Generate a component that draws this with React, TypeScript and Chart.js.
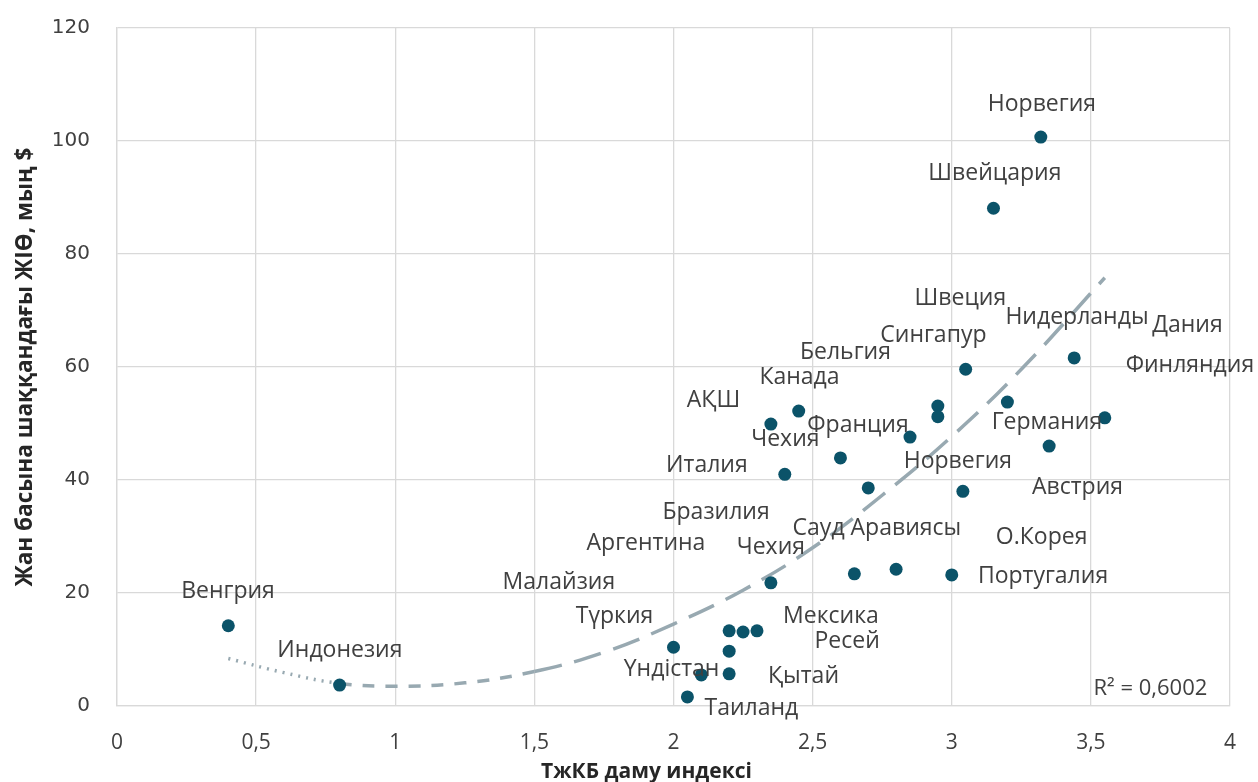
import React, { useEffect, useRef } from "react";
import { Chart, registerables } from "chart.js";

Chart.register(...registerables);

// Country points: development index (x) vs GDP per capita, thousand $ (y)
const countryX = [0.40, 0.80, 2.00, 2.05, 2.10, 2.20, 2.25, 2.30, 2.20, 2.20, 2.35, 2.40, 2.35, 2.45, 2.60, 2.70, 2.85, 2.95, 2.95, 3.05, 3.20, 3.04, 3.35, 3.55, 3.44, 3.32, 3.15, 2.65, 2.80, 3.00];
const countryY = [14.2, 3.7, 10.4, 1.6, 5.5, 13.3, 13.1, 13.3, 9.7, 5.7, 21.8, 41.0, 49.9, 52.2, 43.9, 38.6, 47.6, 53.1, 51.2, 59.6, 53.8, 38.0, 46.0, 51.0, 61.6, 100.7, 88.1, 23.4, 24.2, 23.2];

// Polynomial trendline
const trendX = [0.4, 0.6, 0.8, 1.0, 1.25, 1.5, 1.75, 2.0, 2.25, 2.5, 2.75, 3.0, 3.25, 3.55];
const trendY = [8.4, 5.9, 4.0, 3.5, 4.1, 6.1, 9.5, 14.5, 20.5, 28.0, 37.3, 47.7, 59.6, 75.8];

// Free-floating data labels (text centre, in data coordinates)
const labelTexts = [
  "Норвегия", "Швейцария", "Швеция", "Нидерланды", "Дания", "Сингапур", "Бельгия", "Канада",
  "Финляндия", "АҚШ", "Франция", "Германия", "Чехия", "Италия", "Норвегия", "Австрия",
  "Бразилия", "Сауд Аравиясы", "О.Корея", "Аргентина", "Чехия", "Малайзия", "Португалия", "Венгрия",
  "Түркия", "Мексика", "Ресей", "Индонезия", "Үндістан", "Қытай", "Таиланд",
];
const labelX = [
  3.324, 3.155, 3.031, 3.450, 3.847, 2.934, 2.618, 2.453,
  3.856, 2.144, 2.663, 3.342, 2.402, 2.120, 3.022, 3.452,
  2.153, 2.731, 3.323, 1.901, 2.350, 1.588, 3.328, 0.399,
  1.788, 2.566, 2.624, 0.801, 1.993, 2.467, 2.280,
];
const labelY = [
  106.5, 94.2, 72.2, 68.7, 67.4, 65.5, 62.5, 58.1,
  60.2, 54.0, 49.7, 50.1, 47.1, 42.5, 43.2, 38.6,
  34.2, 31.5, 29.9, 28.7, 28.0, 21.9, 23.0, 20.2,
  15.8, 15.8, 11.5, 9.9, 6.4, 5.3, -0.35,
];

const rSquaredText = "R² = 0,6002";
const rSquaredPos = [3.714, 3.0];

const xTitle = "ТжКБ даму индексі";
const yTitle = "Жан басына шаққандағы ЖІӨ, мың $";
const xRange = [0, 4, 0.5];
const yRange = [0, 120, 20];

const POINT_COLOR = "#0B5369";
const TREND_COLOR = "#98A9B1";
const GRID_COLOR = "#D9D9D9";
const TEXT_COLOR = "#404040";

const labelPlugin = {
  id: "freeLabels",
  afterDatasetsDraw(chart: any) {
    const { ctx, scales, chartArea } = chart;
    const xs = scales.x;
    const ys = scales.y;
    ctx.save();
    ctx.font = '23px "Open Sans"';
    ctx.fillStyle = TEXT_COLOR;
    ctx.textAlign = "center";
    ctx.textBaseline = "middle";
    labelTexts.forEach((t, i) => {
      ctx.fillText(t, xs.getPixelForValue(labelX[i]), ys.getPixelForValue(labelY[i]));
    });
    ctx.font = '22px "Open Sans"';
    ctx.fillText(rSquaredText, xs.getPixelForValue(rSquaredPos[0]), ys.getPixelForValue(rSquaredPos[1]));
    // x-axis title (sits slightly left of the plot centre in the original)
    ctx.font = 'bold 21px "Open Sans"';
    ctx.fillStyle = "#262626";
    ctx.fillText(xTitle, (chartArea.left + chartArea.right) / 2 - 27, chart.height - 10);
    ctx.restore();
  },
};

export default function App() {
  const canvasRef = useRef<HTMLCanvasElement | null>(null);

  useEffect(() => {
    if (!canvasRef.current) return;
    const points = countryX.map((x, i) => ({ x, y: countryY[i] }));
    const trend = trendX.map((x, i) => ({ x, y: trendY[i] }));

    const chart = new Chart(canvasRef.current, {
      type: "scatter",
      data: {
        datasets: [
          {
            label: "countries",
            data: points,
            backgroundColor: POINT_COLOR,
            borderColor: POINT_COLOR,
            borderWidth: 0,
            pointRadius: 6.5,
            pointHoverRadius: 6.5,
            order: 0,
          },
          {
            label: "trend",
            type: "line",
            data: trend,
            borderColor: TREND_COLOR,
            borderWidth: 3.5,
            pointRadius: 0,
            tension: 0.4,
            fill: false,
            order: 1,
            segment: {
              borderDash: (ctx: any) =>
                ctx.p0.parsed.x < 0.79 ? [2, 6] : ctx.p0.parsed.x < 1.45 ? [12, 11] : [28, 13],
            },
          } as any,
        ],
      },
      options: {
        animation: false,
        responsive: true,
        maintainAspectRatio: false,
        layout: { padding: { left: 0, right: 28, top: 28, bottom: 0 } },
        plugins: {
          legend: { display: false },
          tooltip: { enabled: false },
        },
        events: [],
        scales: {
          x: {
            type: "linear",
            min: xRange[0],
            max: xRange[1],
            ticks: {
              stepSize: xRange[2],
              color: "#404040",
              font: { family: '"Open Sans"', size: 21 },
              padding: 24,
              callback: (v: any) => String(v).replace(".", ","),
            },
            grid: { color: GRID_COLOR, lineWidth: 1.3, drawTicks: false },
            border: { color: GRID_COLOR, width: 1.3 },
            title: { display: false, text: xTitle },
            afterFit: (s: any) => {
              s.height = 76;
              s.paddingLeft = 0;
              s.paddingRight = 0;
            },
          },
          y: {
            type: "linear",
            min: yRange[0],
            max: yRange[1],
            ticks: {
              stepSize: yRange[2],
              color: "#404040",
              font: { family: '"DejaVu Sans"', size: 20 },
              padding: 27,
            },
            grid: { color: GRID_COLOR, lineWidth: 1.3, drawTicks: false },
            border: { color: GRID_COLOR, width: 1.3 },
            title: {
              display: true,
              text: yTitle,
              color: "#262626",
              font: { family: '"Open Sans"', size: 22.5, weight: "bold", lineHeight: 1 },
              padding: { top: 14, bottom: 0 },
            },
            afterFit: (s: any) => {
              s.width = 117;
              s.paddingTop = 0;
              s.paddingBottom = 0;
            },
          },
        },
      },
      plugins: [labelPlugin],
    });
    return () => chart.destroy();
  }, []);

  return (
    <div style={{ position: "absolute", left: 0, top: 0, width: 1258, height: 782, background: "#fff" }}>
      <canvas ref={canvasRef} />
    </div>
  );
}
